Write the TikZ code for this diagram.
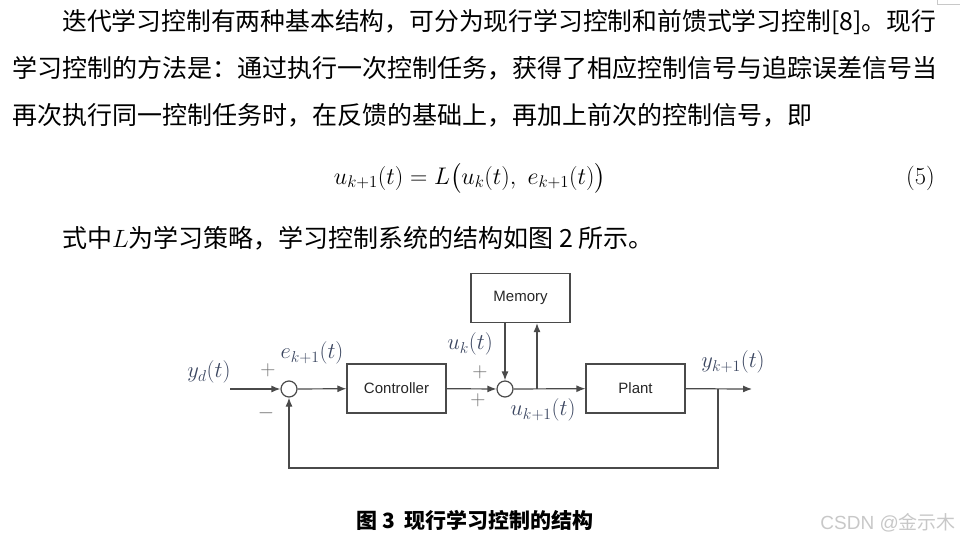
\RequirePackage{fix-cm}
\documentclass[tikz,border=0pt]{standalone}
\usepackage{amsmath}
\usepackage{fontspec}
\setsansfont{Liberation Sans}
\newfontfamily\cjk{Noto Sans CJK SC}
\usetikzlibrary{arrows.meta,positioning}
\definecolor{linegray}{HTML}{4A4A4A}
\definecolor{labelgray}{HTML}{3B4660}
\definecolor{signgray}{HTML}{6E6E6E}
\definecolor{markgray}{HTML}{C8C8C8}

\begin{document}
\begin{tikzpicture}[x=1pt, y=-1pt,
    line/.style={draw=linegray, line width=1.2pt},
    arrow/.style={line, -{Latex[length=9pt,width=7pt]}},
    block/.style={rectangle, draw=linegray, line width=1.2pt, minimum width=99pt, minimum height=49pt, font=\sffamily\fontsize{15}{18}\selectfont, text=black!85},
    sum/.style={circle, draw=linegray, line width=1.2pt, minimum size=16pt, inner sep=0pt},
    sig/.style={text=labelgray, inner sep=0pt, font=\fontsize{22.5}{26}\selectfont},
    sign/.style={text=signgray, inner sep=0pt, font=\fontsize{21}{24}\selectfont},
    para/.style={anchor=west, inner sep=0pt, font=\cjk\fontsize{25}{30}\selectfont}]

    \useasboundingbox (0,0) rectangle (960,541);

    % text of the page
    \node[para, font=\cjk\fontsize{24.8}{30}\selectfont] (line1) at (62,22) {迭代学习控制有两种基本结构，可分为现行学习控制和前馈式学习控制[8]。现行};
    \node[para] (line2) at (12,68) {学习控制的方法是：通过执行一次控制任务，获得了相应控制信号与追踪误差信号当};
    \node[para] (line3) at (12,115) {再次执行同一控制任务时，在反馈的基础上，再加上前次的控制信号，即};
    \node[inner sep=0pt, font=\fontsize{24}{30}\selectfont] (eq) at (470,178) {$u_{k+1}(t) = L\bigl(u_k(t),\ e_{k+1}(t)\bigr)$};
    \node[inner sep=0pt, anchor=east, font=\fontsize{24.5}{30}\selectfont] (eqno) at (935,178) {(5)};
    \node[para] (line4) at (62,238) {式中$L$为学习策略，学习控制系统的结构如图 2 所示。};
    \draw[markgray, line width=0.8pt] (937,0) -- (937,4) -- (960,4);

    % blocks
    \node[block] (mem) at (520.5,298) {Memory};
    \node[block] (ctrl) at (396.5,388.5) {Controller};
    \node[block] (plant) at (635.5,388.5) {Plant};
    \node[sum] (sum1) at (289,389) {};
    \node[sum] (sum2) at (505,389) {};
    \coordinate (in) at (230,389);
    \coordinate (br) at (537,389);
    \coordinate (fb) at (718,389);
    \coordinate (out) at (752,389);

    % signals
    \draw[arrow] (in) -- (sum1);
    \draw[arrow] (sum1) -- (ctrl);
    \draw[arrow] (ctrl) -- (sum2);
    \draw[arrow] (mem.south -| sum2) -- (sum2.north);
    \draw[arrow] (br) -- (br |- mem.south);
    \draw[arrow] (sum2) -- (plant);
    \draw[arrow] (plant) -- (out);
    \draw[arrow] (fb) -- ++(0,79) -| (sum1.south);

    % labels
    \node[sig] (yd) at (209,372) {$y_d(t)$};
    \node[sign] (p1) at (268,370) {$+$};
    \node[sign] (m1) at (266,413) {$-$};
    \node[sig] (err) at (312,353) {$e_{k+1}(t)$};
    \node[sig] (uk) at (470,344) {$u_k(t)$};
    \node[sign] (p2) at (480,372) {$+$};
    \node[sign] (p3) at (478,400) {$+$};
    \node[sig] (uk1) at (543,410) {$u_{k+1}(t)$};
    \node[sig] (yk1) at (733,362) {$y_{k+1}(t)$};

    % caption
    \node[inner sep=0pt, font=\cjk\bfseries\fontsize{21}{24}\selectfont] (cap) at (475,520) {图 3 \ 现行学习控制的结构};
    \node[inner sep=0pt, anchor=east, text=markgray, font=\sffamily\fontsize{19}{22}\selectfont] (mark) at (956,523) {CSDN @{\cjk 金示木}};
\end{tikzpicture}
\end{document}
